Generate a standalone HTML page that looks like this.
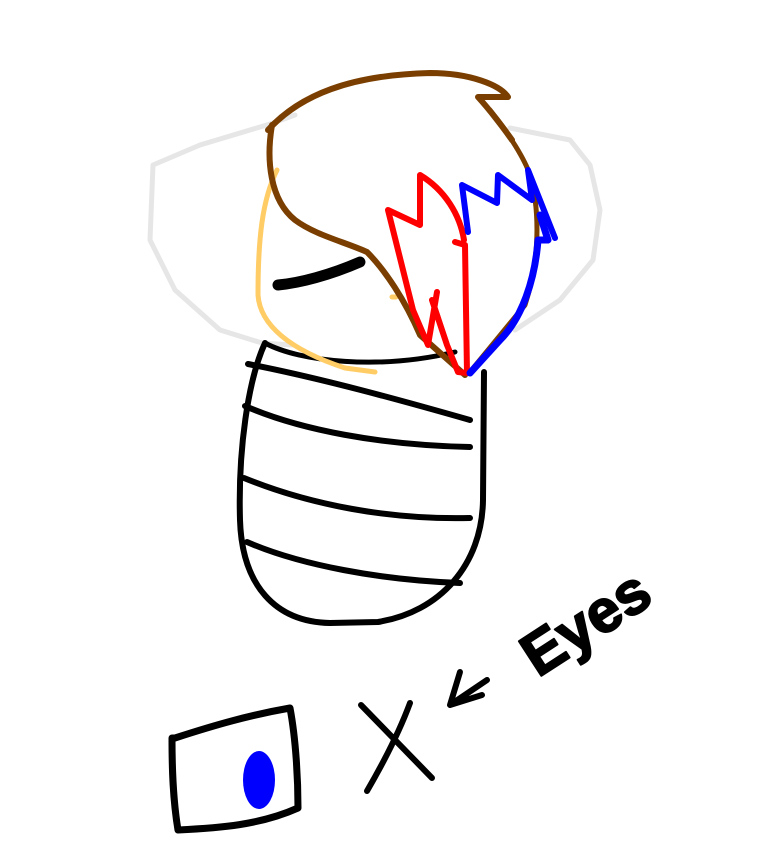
<!DOCTYPE html>
<html><head><meta charset="utf-8"><style>html,body{margin:0;padding:0;background:#fff}svg{display:block}</style></head>
<body>
<svg width="768" height="866" viewBox="0 0 768 866" xmlns="http://www.w3.org/2000/svg" fill="none" stroke-linecap="round" stroke-linejoin="round">
<!-- hood -->
<path d="M295,115 L270,124 L200,145 L153,165 L150,240 L175,290 L220,330 L262,343 L292,345" stroke="#e6e6e6" stroke-width="5"/>
<path d="M510,128 L570,140 L590,165 L600,210 L593,260 L560,300 L515,330" stroke="#e6e6e6" stroke-width="5"/>
<!-- body -->
<path d="M265,343 C248,380 238,450 240,520 C242,585 275,622 330,623 L378,622 C440,612 482,565 483,500 L484,372" stroke="#000" stroke-width="6"/>
<path d="M248,364 C320,378 400,400 470,420" stroke="#000" stroke-width="6"/>
<path d="M245,406 C300,430 380,445 470,447" stroke="#000" stroke-width="6"/>
<path d="M244,478 C310,505 390,520 470,518" stroke="#000" stroke-width="6"/>
<path d="M247,542 C300,565 380,580 460,583" stroke="#000" stroke-width="6"/>
<path d="M265,343 C300,362 380,370 455,352" stroke="#000" stroke-width="5"/>
<!-- skin -->
<path d="M277,170 C262,200 258,240 258,295 C260,325 290,350 345,368 L375,372" stroke="#ffcc66" stroke-width="5"/>
<path d="M392,297 L396,297" stroke="#ffcc66" stroke-width="5"/>
<!-- eye -->
<path d="M278,285 C300,283 330,275 360,262" stroke="#000" stroke-width="11"/>
<!-- brown hair -->
<path d="M268,130 C300,95 350,75 430,73 C470,73 500,85 508,97 L478,97 C490,110 505,130 512,140" stroke="#7a3f00" stroke-width="6"/>
<path d="M490,110 C510,135 525,160 530,175" stroke="#7a3f00" stroke-width="5"/>
<path d="M272,125 C266,160 270,200 295,220 C315,235 345,242 367,252 C385,270 405,300 420,335 L465,375" stroke="#7a3f00" stroke-width="6"/>
<path d="M530,175 C540,210 540,260 525,305 L470,372" stroke="#7a3f00" stroke-width="5"/>
<!-- red -->
<path d="M464,240 C460,215 445,190 420,175 L420,225 L388,210 L413,310 L428,345 L437,292 M432,300 L447,345 L458,372 L467,373 L465,245 L455,242" stroke="#ff0000" stroke-width="6"/>
<!-- blue -->
<path d="M468,232 L462,185 L497,203 L498,175 L532,200 L528,170 L555,238" stroke="#0000ff" stroke-width="6"/>
<path d="M540,215 L548,240 L538,240 C535,280 522,318 500,340 L470,373" stroke="#0000ff" stroke-width="7"/>
<!-- eye icon -->
<path d="M175,738 C215,725 250,715 290,708 C296,740 298,780 298,808 C260,825 220,828 178,830 C173,800 172,770 172,738 Z" stroke="#000" stroke-width="7"/>
<ellipse cx="259" cy="780" rx="16" ry="29" fill="#0000ff"/>
<!-- X -->
<path d="M361,705 L432,778 M410,703 C400,730 385,760 367,791" stroke="#000" stroke-width="6"/>
<!-- arrow -->
<path d="M460,672 L450,705 L482,695 M450,705 L487,680" stroke="#000" stroke-width="6"/>
<text x="0" y="0" transform="translate(538,678) rotate(-33)" font-family="Liberation Sans, sans-serif" font-size="60" font-weight="bold" fill="#000" stroke="#000" stroke-width="2">Eyes</text>
</svg>
</body></html>
